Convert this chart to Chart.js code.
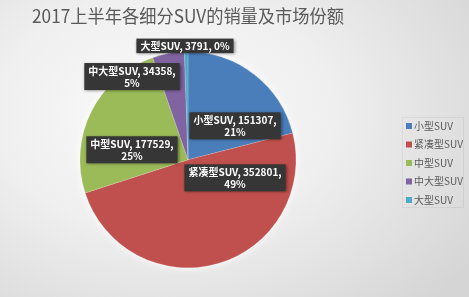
<!DOCTYPE html>
<html>
<head>
<meta charset="utf-8">
<script src="https://cdn.jsdelivr.net/npm/chart.js@4.4.0/dist/chart.umd.min.js"></script>
<style>
    html, body { margin: 0; padding: 0; }
    body {
        width: 469px;
        height: 297px;
        overflow: hidden;
        background: radial-gradient(ellipse 80% 90% at 35% 38%, #fbfbfb 0%, #efefef 45%, #d5d5d5 100%);
    }
</style>
</head>
<body>
<canvas id="suvChart" width="469" height="297"></canvas>
<script>
const chartTitle = '2017上半年各细分SUV的销量及市场份额';
const segments = ['小型SUV', '紧凑型SUV', '中型SUV', '中大型SUV', '大型SUV'];
const sales = [151307, 352801, 177529, 34358, 3791];
const sliceColors = ['#4a7ebb', '#c0504d', '#9bbb59', '#8064a2', '#4bacc6'];

const FONT = '"Noto Sans CJK SC", "Noto Sans", sans-serif';

// whole percents that add up to 100, the way Excel rounds pie labels
function wholePercents(values) {
    const total = values.reduce((a, b) => a + b, 0);
    const raw = values.map((v) => v * 100 / total);
    const out = raw.map(Math.floor);
    let left = 100 - out.reduce((a, b) => a + b, 0);
    const order = raw.map((v, i) => i).sort((a, b) => (raw[b] - out[b]) - (raw[a] - out[a]));
    for (let k = 0; k < left; k++) out[order[k]] += 1;
    return out;
}

// soft light halo behind the pie
const pieGlow = {
    id: 'pieGlow',
    beforeDatasetsDraw(chart) {
        const arc = chart.getDatasetMeta(0).data[0];
        if (!arc) return;
        const ctx = chart.ctx;
        ctx.save();
        ctx.shadowColor = 'rgba(255,255,255,0.95)';
        ctx.shadowBlur = 8;
        ctx.fillStyle = '#e6e6e6';
        ctx.beginPath();
        ctx.arc(arc.x, arc.y, arc.outerRadius, 0, Math.PI * 2);
        ctx.fill();
        ctx.restore();
    }
};

// dark callout boxes with "name, value, pct%"
const sliceLabels = {
    id: 'sliceLabels',
    afterDatasetsDraw(chart, args, opts) {
        const meta = chart.getDatasetMeta(0);
        const ctx = chart.ctx;
        const pct = wholePercents(sales);
        ctx.save();
        ctx.font = opts.font;
        ctx.textAlign = 'center';
        ctx.textBaseline = 'middle';
        meta.data.forEach((arc, i) => {
            const full = segments[i] + ', ' + sales[i] + ', ' + pct[i] + '%';
            let lines = [full];
            if (ctx.measureText(full).width > opts.maxWidth) {
                lines = [segments[i] + ', ' + sales[i] + ',', pct[i] + '%'];
            }
            const w = Math.max(...lines.map((l) => ctx.measureText(l).width)) + 8;
            const h = lines.length * opts.lineHeight + 2;
            const cx = arc.x + opts.anchors[i][0] * arc.outerRadius;
            const cy = arc.y + opts.anchors[i][1] * arc.outerRadius;

            ctx.save();
            ctx.shadowColor = 'rgba(0,0,0,0.45)';
            ctx.shadowBlur = 3;
            ctx.shadowOffsetX = 1;
            ctx.shadowOffsetY = 1;
            ctx.fillStyle = '#363636';
            ctx.fillRect(cx - w / 2, cy - h / 2, w, h);
            ctx.restore();

            ctx.fillStyle = '#ffffff';
            lines.forEach((line, k) => {
                const y = cy - (lines.length - 1) * opts.lineHeight / 2 + k * opts.lineHeight;
                ctx.fillText(line, cx, y + 0.5);
            });
        });
        ctx.restore();
    }
};

// legend box on the right
const sideLegend = {
    id: 'sideLegend',
    afterDraw(chart, args, opts) {
        const ctx = chart.ctx;
        ctx.save();
        ctx.strokeStyle = 'rgba(0,0,0,0.05)';
        ctx.strokeRect(opts.frame[0], opts.frame[1], opts.frame[2], opts.frame[3]);
        ctx.font = opts.font;
        ctx.textBaseline = 'middle';
        chart.data.labels.forEach((label, i) => {
            const y = opts.top + i * opts.rowGap;
            ctx.fillStyle = chart.data.datasets[0].backgroundColor[i];
            ctx.fillRect(opts.left, y - 3, 6, 6);
            ctx.fillStyle = '#595959';
            ctx.fillText(label, opts.left + 8, y);
        });
        ctx.restore();
    }
};

new Chart(document.getElementById('suvChart').getContext('2d'), {
    type: 'pie',
    data: {
        labels: segments,
        datasets: [{
            data: sales,
            backgroundColor: sliceColors,
            borderColor: 'rgba(255,255,255,0.35)',
            borderWidth: 0.5,
            radius: 108
        }]
    },
    options: {
        responsive: false,
        animation: false,
        events: [],
        layout: { padding: { left: 32, right: 125, top: 0, bottom: 14 } },
        plugins: {
            legend: { display: false },
            tooltip: { enabled: false },
            title: {
                display: true,
                text: chartTitle,
                align: 'start',
                color: '#595959',
                font: { family: FONT, size: 18, weight: 'normal' },
                padding: { top: 5, bottom: 10 }
            },
            sliceLabels: {
                font: 'bold 10px ' + FONT,
                lineHeight: 12.5,
                maxWidth: 95,
                anchors: [[0.435, -0.315], [0.435, 0.167], [-0.519, -0.093], [-0.519, -0.771], [-0.028, -1.055]]
            },
            sideLegend: {
                font: '10px ' + FONT,
                left: 406,
                top: 126,
                rowGap: 18.5,
                frame: [402.5, 117.5, 61, 90]
            }
        }
    },
    plugins: [pieGlow, sliceLabels, sideLegend]
});
</script>
</body>
</html>
